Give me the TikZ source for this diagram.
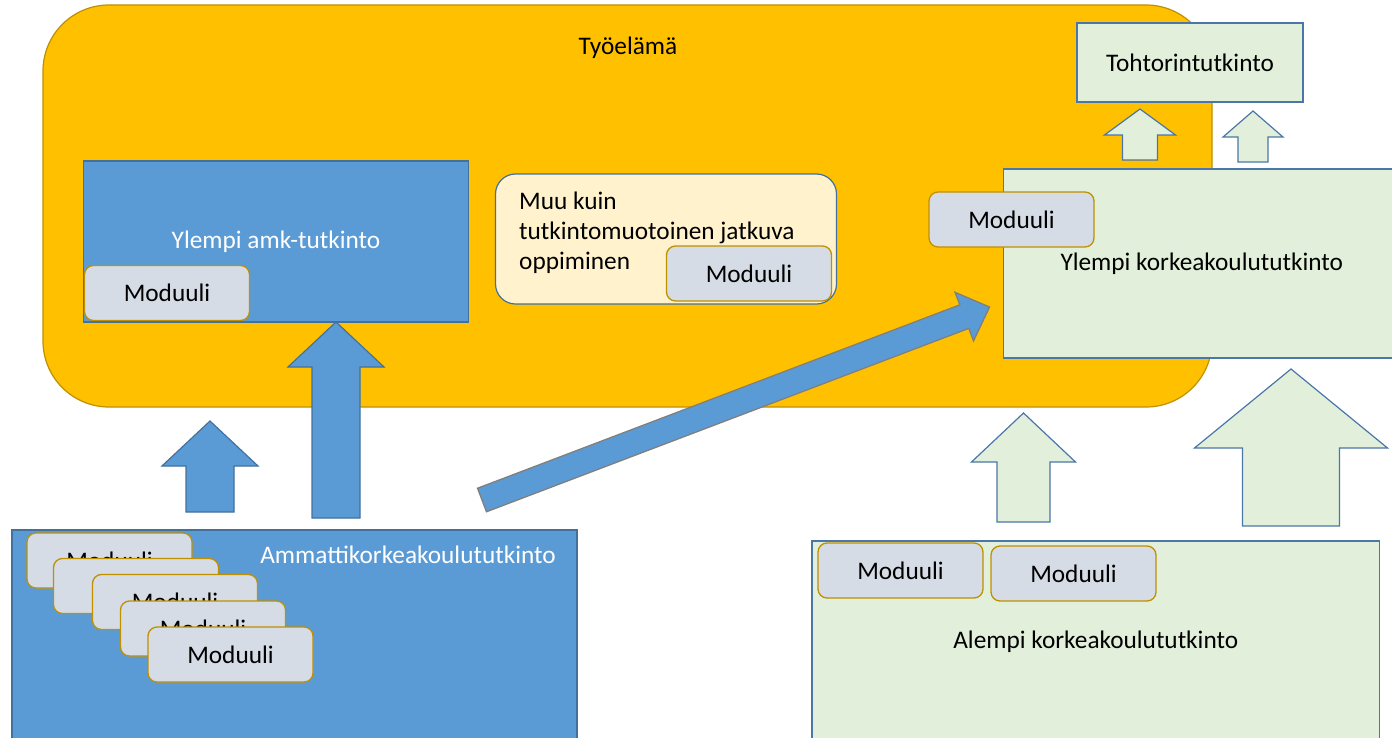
\documentclass[tikz,border=0pt]{standalone}
\usepackage{fontspec}
\setmainfont{Carlito}
\usepackage{tikz}
\usetikzlibrary{positioning}
\definecolor{tyofill}{HTML}{FFC000}
\definecolor{tyoline}{HTML}{BF9000}
\definecolor{bluefill}{HTML}{5B9BD5}
\definecolor{blueline}{HTML}{41719C}
\definecolor{greenfill}{HTML}{E2EFDA}
\definecolor{greenline}{HTML}{4A76A8}
\definecolor{modfill}{HTML}{D6DCE5}
\definecolor{modline}{HTML}{BF9000}
\definecolor{muufill}{HTML}{FFF2CC}
\definecolor{grayline}{HTML}{7F7F7F}
\newcommand*{\UpArrow}[7]{\path[#1] ({#2-#6},#7) -- ({#2-#6},#5) -- ({#2-#4},#5) -- (#2,#3)
    -- ({#2+#4},#5) -- ({#2+#6},#5) -- ({#2+#6},#7) -- cycle;}
\tikzstyle{tyobox}=[rectangle, draw=tyoline, fill=tyofill, line width=1.2pt, rounded corners=66pt]
\tikzstyle{bluebox}=[rectangle, draw=blueline, fill=bluefill, line width=1.2pt, text=white]
\tikzstyle{greenbox}=[rectangle, draw=greenline, fill=greenfill, line width=1.2pt]
\tikzstyle{muubox}=[rectangle, draw=blueline, fill=muufill, line width=1.2pt, rounded corners=20pt]
\tikzstyle{modbox}=[rectangle, draw=modline, fill=modfill, line width=1.3pt, rounded corners=9pt,
    minimum width=165pt, minimum height=55pt]
\tikzstyle{bluearrow}=[draw=blueline, fill=bluefill, line width=1.2pt]
\tikzstyle{greenarrow}=[draw=greenline, fill=greenfill, line width=1.2pt]
\tikzstyle{diagarrow}=[draw=grayline, fill=bluefill, line width=1.3pt]

\begin{document}
\begin{tikzpicture}[x=1pt, y=-1pt, every node/.style={inner sep=0pt, font=\fontsize{25.3}{30}\selectfont}]
    \useasboundingbox (0,0) rectangle (1392,738);
    \clip (0,0) rectangle (1392,738);
    % background
    \node[tyobox, minimum width=1169pt, minimum height=402pt] (tyo) at (627.5,206) {};
    \node (tyoteksti) at (628,48) {Työelämä};
    % lower degrees
    \node[bluebox, minimum width=565pt, minimum height=220pt] (amk) at (294.5,640) {};
    \node[text=white] (amkteksti) at (408,555) {Ammattikorkeakoulututkinto};
    \node[greenbox, minimum width=567.5pt, minimum height=202pt] (akk) at (1095.75,642) {Alempi korkeakoulututkinto};
    % higher degrees
    \node[greenbox, minimum width=396.5pt, minimum height=189pt] (ykk) at (1201.75,263.5) {Ylempi korkeakoulututkinto};
    \node[greenbox, minimum width=226pt, minimum height=79pt] (toht) at (1190,62.5) {Tohtorintutkinto};
    % arrows
    \UpArrow{bluearrow}{210}{421}{48}{466}{24}{512}
    \UpArrow{bluearrow}{336}{322}{48}{367}{24}{518}
    \UpArrow{greenarrow}{1023.5}{413}{52}{462}{26.5}{522}
    \UpArrow{greenarrow}{1291}{369}{96.5}{448}{48.5}{526}
    \UpArrow{greenarrow}{1140}{109}{35.5}{135}{17.5}{160}
    \UpArrow{greenarrow}{1253}{111}{30}{137}{15}{162}
    \begin{scope}[shift={(482,500)}, rotate=20.82]
        \path[diagarrow] (0,-12.6) -- (516,-12.6) -- (516,-26) -- (543,0) -- (516,26)
        -- (516,12.6) -- (0,12.6) -- cycle;
    \end{scope}
    % inside working life
    \node[bluebox, minimum width=385pt, minimum height=161pt] (yamk) at (276,241.5) {Ylempi amk-tutkinto};
    \node[muubox, minimum width=341pt, minimum height=130pt] (muu) at (666,239) {};
    \node[anchor=west, align=left] (muuteksti) at (519,233) {Muu kuin\\tutkintomuotoinen jatkuva\\oppiminen};
    % modules
    \node[modbox] (m1) at (167,293) {Moduuli};
    \node[modbox] (m2) at (749,273.5) {Moduuli};
    \node[modbox] (m3) at (1011.5,219.5) {Moduuli};
    \node[modbox] (m4) at (900.5,570.5) {Moduuli};
    \node[modbox] (m5) at (1073.5,573.5) {Moduuli};
    \node[modbox] (s1) at (109.5,560.5) {Moduuli};
    \node[modbox] (s2) at (136,586) {Moduuli};
    \node[modbox] (s3) at (175,602) {Moduuli};
    \node[modbox] (s4) at (203,628.5) {Moduuli};
    \node[modbox] (s5) at (230.5,654.5) {Moduuli};
\end{tikzpicture}
\end{document}
